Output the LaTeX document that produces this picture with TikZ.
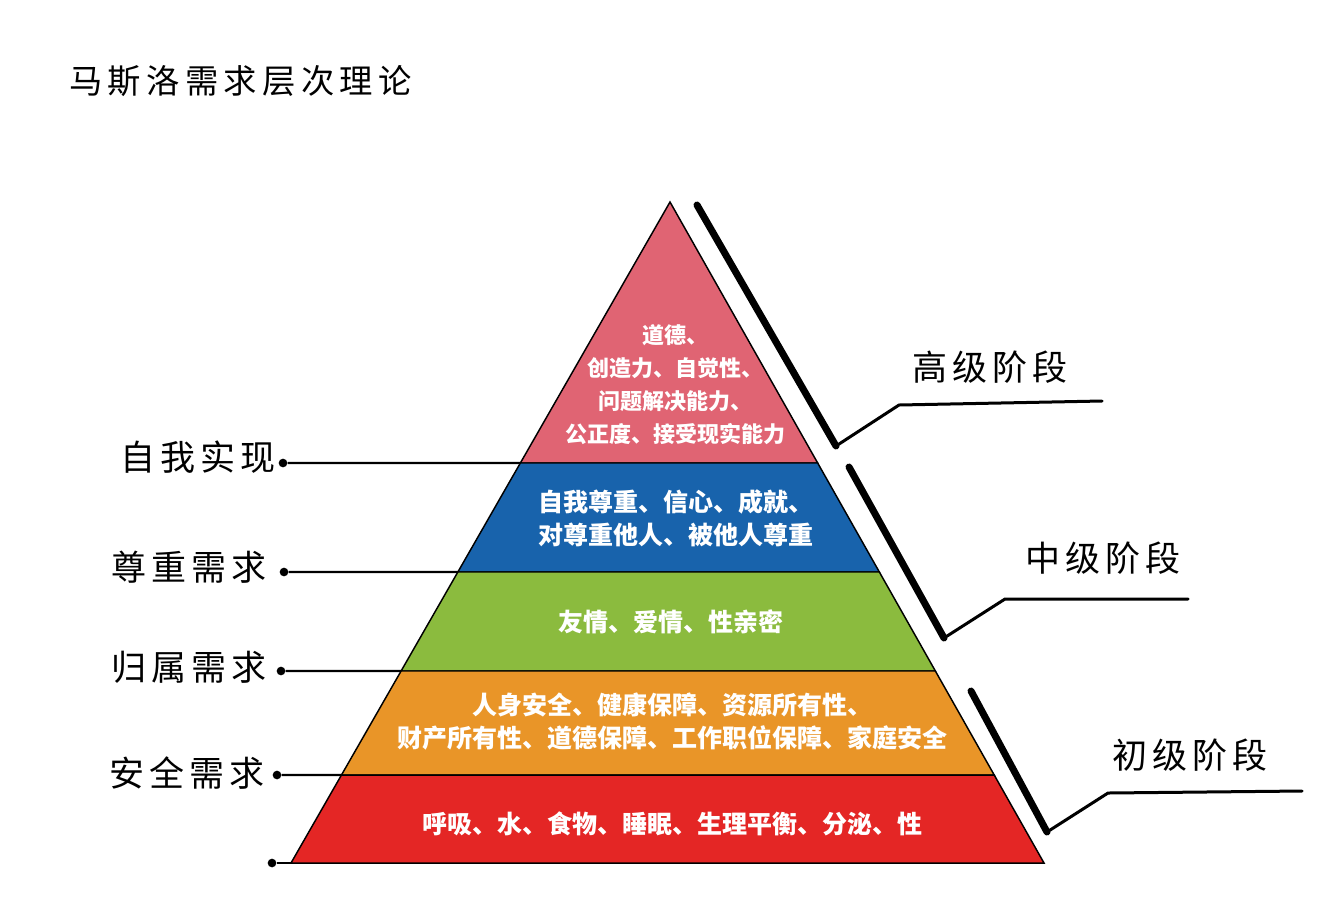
\documentclass[tikz,border=0pt]{standalone}
\usepackage{fontspec}
\setmainfont{Noto Sans CJK SC}
\newfontfamily\labelfont[LetterSpace=14]{Noto Sans CJK SC}
\newfontfamily\titlefont[LetterSpace=16]{Noto Sans CJK SC}
\usetikzlibrary{calc}

\definecolor{tipcolor}{RGB}{224,100,115}
\definecolor{esteemcolor}{RGB}{24,99,172}
\definecolor{lovecolor}{RGB}{139,187,62}
\definecolor{safecolor}{RGB}{233,149,40}
\definecolor{basecolor}{RGB}{228,38,37}

\tikzset{
  band/.style={draw=black, line width=1.1pt, line join=miter},
  bandtext/.style={text=white, align=center, inner sep=0pt, font=\bfseries\fontsize{18.75}{24.75}\selectfont},
  needlabel/.style={inner sep=0pt, font=\labelfont\fontsize{26.25}{30}\selectfont},
  leader/.style={line width=1.6pt},
  dotmark/.style={circle, fill=black, inner sep=0pt, minimum size=6.5pt},
  bracket/.style={line width=5.25pt, line cap=round},
  stageline/.style={line width=2.25pt, line cap=round, line join=miter},
}

\begin{document}
\begin{tikzpicture}[x=0.75pt,y=0.75pt,yscale=-1,xscale=1]
\path[use as bounding box] (0,0) rectangle (1344,915);

%Title
\draw (69,81) node[anchor=west, inner sep=0pt, font=\titlefont\fontsize{25}{28}\selectfont] (title) {马斯洛需求层次理论};

%Pyramid corners and band boundaries
\coordinate (apex) at (670,202);
\coordinate (baseL) at (291,863);
\coordinate (baseR) at (1044,863);
\foreach \y/\dx [count=\i] in {463/283, 572/284, 671/281, 775/277}{
  \coordinate (L\i) at ($(apex)!{(\y-202)/661}!(baseL)$);
  \coordinate (R\i) at ($(apex)!{(\y-202)/661}!(baseR)$);
  \node[dotmark] (dot\i) at (\dx,\y) {};
}
\node[dotmark] (dot5) at (272,863) {};

%Left leader lines
\foreach \i in {1,...,4}{
  \draw[leader] (dot\i) -- (L\i);
}
\draw[leader] (dot5) -- (baseL);

%Bands
\draw[band, fill=tipcolor] (apex) -- (R1) -- (L1) -- cycle;
\draw[band, fill=esteemcolor] (L1) -- (R1) -- (R2) -- (L2) -- cycle;
\draw[band, fill=lovecolor] (L2) -- (R2) -- (R3) -- (L3) -- cycle;
\draw[band, fill=safecolor] (L3) -- (R3) -- (R4) -- (L4) -- cycle;
\draw[band, fill=basecolor] (L4) -- (R4) -- (baseR) -- (baseL) -- cycle;

%Band texts
\draw (675,385) node[bandtext, font=\bfseries\fontsize{16.5}{24.75}\selectfont] (tipText) {道德、\\创造力、自觉性、\\问题解决能力、\\公正度、接受现实能力};
\draw (676,518) node[bandtext] (esteemText) {自我尊重、信心、成就、\\对尊重他人、被他人尊重};
\draw (671,622) node[bandtext] (loveText) {友情、爱情、性亲密};
\draw (672,722) node[bandtext] (safeText) {人身安全、健康保障、资源所有性、\\财产所有性、道德保障、工作职位保障、家庭安全};
\draw (672,824) node[bandtext] (baseText) {呼吸、水、食物、睡眠、生理平衡、分泌、性};

%Left labels
\draw (198,457) node[needlabel] (selfLabel) {自我实现};
\draw (189,567) node[needlabel] (esteemLabel) {尊重需求};
\draw (189,667) node[needlabel] (belongLabel) {归属需求};
\draw (187,773) node[needlabel] (safeLabel) {安全需求};

%Stage brackets
\coordinate (highTop) at (697,205);
\coordinate (highEnd) at (836,446);
\coordinate (highKnee) at (899,405);
\coordinate (highTail) at (1102,401);
\draw[bracket] (highTop) -- (highEnd);
\draw[stageline] (highEnd) -- (highKnee) -- (highTail);

\coordinate (midTop) at (849,467);
\coordinate (midEnd) at (944,638);
\coordinate (midKnee) at (1005,599);
\coordinate (midTail) at (1188,599);
\draw[bracket] (midTop) -- (midEnd);
\draw[stageline] (midEnd) -- (midKnee) -- (midTail);

\coordinate (lowTop) at (971,691);
\coordinate (lowEnd) at (1047,832);
\coordinate (lowKnee) at (1108,793);
\coordinate (lowTail) at (1302,791);
\draw[bracket] (lowTop) -- (lowEnd);
\draw[stageline] (lowEnd) -- (lowKnee) -- (lowTail);

%Stage labels
\draw (990,367) node[needlabel] (highLabel) {高级阶段};
\draw (1103,558) node[needlabel] (midLabel) {中级阶段};
\draw (1190,755) node[needlabel] (lowLabel) {初级阶段};

\end{tikzpicture}
\end{document}
